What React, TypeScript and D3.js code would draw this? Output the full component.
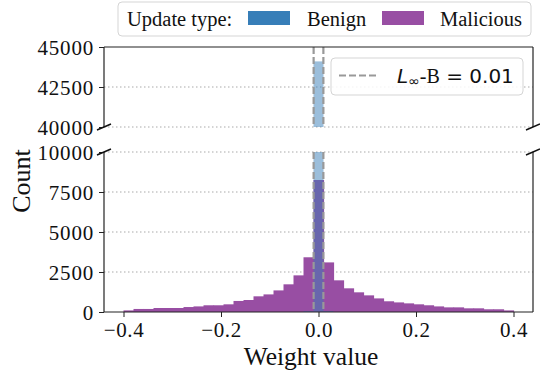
import React, { useRef, useEffect } from 'react';
import * as d3 from 'd3';

// histogram bins: 39 equal bins between -0.4 and 0.4
const binStart = -0.4;
const binEnd = 0.4;
const maliciousCounts = [
  100, 190, 190, 250, 250, 250, 310, 350, 420, 420, 480, 690, 750, 980, 1100, 1350, 1730, 2290, 3420,
  8250,
  3100, 1980, 1480, 1230, 1040, 850, 670, 600, 540, 480, 420, 350, 290, 290, 230, 230, 170, 170, 100,
];
const benignCounts = [
  0, 0, 0, 0, 0, 0, 0, 0, 0, 0, 0, 0, 0, 0, 0, 0, 0, 0, 60,
  44100,
  60, 0, 0, 0, 0, 0, 0, 0, 0, 0, 0, 0, 0, 0, 0, 0, 0, 0, 0,
];
const bound = 0.01;
const xTicks = [-0.4, -0.2, 0.0, 0.2, 0.4];
const topTicks = [40000, 42500, 45000];
const bottomTicks = [0, 2500, 5000, 7500, 10000];

const BENIGN = '#377eb8';
const MALICIOUS = '#984ea3';
const SERIF = '"Liberation Serif", "Times New Roman", serif';
const SANS = '"DejaVu Sans", sans-serif';

const App = () => {
  const svgRef = useRef(null);

  useEffect(() => {
    const svg = d3.select(svgRef.current);
    svg.selectAll('*').remove();

    const left = 104, right = 533;
    const topPanel = { y0: 47, y1: 127 };
    const botPanel = { y0: 152, y1: 312 };

    const x = d3.scaleLinear().domain([-0.44, 0.44]).range([left, right]);
    const yTop = d3.scaleLinear().domain([40000, 45000]).range([topPanel.y1, topPanel.y0]);
    const yBot = d3.scaleLinear().domain([0, 10000]).range([botPanel.y1, botPanel.y0]);

    const n = maliciousCounts.length;
    const binW = (binEnd - binStart) / n;
    const bins = maliciousCounts.map((m, i) => ({
      x0: binStart + i * binW,
      x1: binStart + (i + 1) * binW,
      malicious: m,
      benign: benignCounts[i],
    }));

    const defs = svg.append('defs');
    defs.append('clipPath').attr('id', 'clip-top')
      .append('rect').attr('x', left).attr('y', topPanel.y0).attr('width', right - left).attr('height', topPanel.y1 - topPanel.y0);
    defs.append('clipPath').attr('id', 'clip-bot')
      .append('rect').attr('x', left).attr('y', botPanel.y0).attr('width', right - left).attr('height', botPanel.y1 - botPanel.y0);

    const panels = [
      { y: yTop, ticks: topTicks, clip: 'clip-top', p: topPanel, min: 40000 },
      { y: yBot, ticks: bottomTicks, clip: 'clip-bot', p: botPanel, min: 0 },
    ];

    panels.forEach(({ y, ticks, clip, p, min }) => {
      // dotted grid
      svg.append('g')
        .selectAll('line')
        .data(ticks.filter(t => t !== 0 && t !== 45000))
        .enter()
        .append('line')
        .attr('x1', left).attr('x2', right)
        .attr('y1', d => y(d)).attr('y2', d => y(d))
        .attr('stroke', '#aaa')
        .attr('stroke-width', 1.2)
        .attr('stroke-dasharray', '1.5,2.5');

      const g = svg.append('g').attr('clip-path', `url(#${clip})`);

      g.selectAll('.mal')
        .data(bins.filter(b => b.malicious > min))
        .enter()
        .append('rect')
        .attr('x', d => x(d.x0))
        .attr('width', d => x(d.x1) - x(d.x0) + 0.6)
        .attr('y', d => y(d.malicious))
        .attr('height', d => y(min) - y(d.malicious) + 2)
        .attr('fill', MALICIOUS);

      g.selectAll('.ben')
        .data(bins.filter(b => b.benign > min))
        .enter()
        .append('rect')
        .attr('x', d => x(d.x0))
        .attr('width', d => x(d.x1) - x(d.x0))
        .attr('y', d => y(d.benign))
        .attr('height', d => y(min) - y(d.benign) + 2)
        .attr('fill', BENIGN)
        .attr('fill-opacity', 0.5);

      // bound lines
      g.selectAll('.bound')
        .data([-bound, bound])
        .enter()
        .append('line')
        .attr('x1', d => x(d)).attr('x2', d => x(d))
        .attr('y1', p.y0).attr('y2', p.y1)
        .attr('stroke', '#999')
        .attr('stroke-width', 2.2)
        .attr('stroke-dasharray', '7,3');

      // y axis
      const axis = svg.append('g')
        .attr('transform', `translate(${left},0)`)
        .call(d3.axisLeft(y).tickValues(ticks).tickSize(5).tickPadding(5).tickFormat(d3.format('d')));
      axis.select('.domain').remove();
      axis.selectAll('line').attr('stroke', '#222').attr('stroke-width', 1);
      axis.selectAll('text')
        .attr('font-family', SERIF)
        .attr('font-size', 21)
        .attr('letter-spacing', 0.8)
        .attr('fill', '#111')
        .attr('dy', '0.34em');

      // spines
      svg.append('line')
        .attr('x1', left).attr('x2', left).attr('y1', p.y0).attr('y2', p.y1)
        .attr('stroke', '#222').attr('stroke-width', 1.2);
      svg.append('line')
        .attr('x1', right).attr('x2', right).attr('y1', p.y0).attr('y2', p.y1)
        .attr('stroke', '#222').attr('stroke-width', 1.2);
    });

    // top spine
    svg.append('line')
      .attr('x1', left).attr('x2', right).attr('y1', topPanel.y0).attr('y2', topPanel.y0)
      .attr('stroke', '#222').attr('stroke-width', 1.2);

    // x axis
    const xAxis = svg.append('g')
      .attr('transform', `translate(0,${botPanel.y1})`)
      .call(d3.axisBottom(x).tickValues(xTicks).tickSize(5).tickPadding(5).tickFormat(d3.format('.1f')));
    xAxis.select('.domain').attr('stroke', '#222').attr('stroke-width', 1.2).attr('d', `M${left},0H${right}`);
    xAxis.selectAll('line').attr('stroke', '#222');
    xAxis.selectAll('text')
      .attr('font-family', SERIF)
      .attr('font-size', 21)
      .attr('letter-spacing', 0.6)
      .attr('fill', '#111');

    // break marks
    const breaks = [
      [left, topPanel.y1], [right, topPanel.y1],
      [left, botPanel.y0], [right, botPanel.y0],
    ];
    svg.append('g')
      .selectAll('line')
      .data(breaks)
      .enter()
      .append('line')
      .attr('x1', d => d[0] - 7).attr('x2', d => d[0] + 7)
      .attr('y1', d => d[1] + 3).attr('y2', d => d[1] - 3)
      .attr('stroke', '#111')
      .attr('stroke-width', 1.5);

    // axis labels
    svg.append('text')
      .attr('x', 311)
      .attr('y', 365)
      .attr('text-anchor', 'middle')
      .attr('font-family', SERIF)
      .attr('font-size', 25.5)
      .attr('fill', '#111')
      .text('Weight value');

    svg.append('text')
      .attr('transform', 'translate(30,181) rotate(-90)')
      .attr('text-anchor', 'middle')
      .attr('font-family', SERIF)
      .attr('font-size', 26)
      .attr('fill', '#111')
      .text('Count');

    // inner legend (bound)
    const lg = svg.append('g');
    lg.append('rect')
      .attr('x', 331).attr('y', 58).attr('width', 192).attr('height', 37)
      .attr('rx', 4)
      .attr('fill', 'white').attr('fill-opacity', 0.85)
      .attr('stroke', '#d5d5d5');
    lg.append('line')
      .attr('x1', 339).attr('x2', 378).attr('y1', 75.5).attr('y2', 75.5)
      .attr('stroke', '#999').attr('stroke-width', 2.2).attr('stroke-dasharray', '7,3');
    const lt = lg.append('text')
      .attr('x', 397).attr('y', 83)
      .attr('font-size', 20)
      .attr('fill', '#111');
    lt.append('tspan').attr('font-family', SANS).attr('font-style', 'italic').text('L');
    lt.append('tspan').attr('font-family', SANS).attr('font-size', 14).attr('dy', 3).text('∞');
    lt.append('tspan').attr('font-family', SERIF).attr('dy', -3).text('-B');
    lt.append('tspan').attr('font-family', SANS).text(' = 0.01');

    // top legend (update type)
    const tl = svg.append('g');
    tl.append('rect')
      .attr('x', 118).attr('y', 2).attr('width', 413).attr('height', 34)
      .attr('rx', 4)
      .attr('fill', 'white')
      .attr('stroke', '#d5d5d5');
    const legendText = (tx, s) => tl.append('text')
      .attr('x', tx).attr('y', 26)
      .attr('font-family', SERIF)
      .attr('font-size', 20.5)
      .attr('fill', '#111')
      .text(s);
    legendText(127, 'Update type:');
    tl.append('rect').attr('x', 248).attr('y', 11).attr('width', 42).attr('height', 14).attr('fill', BENIGN);
    legendText(307, 'Benign');
    tl.append('rect').attr('x', 382).attr('y', 11).attr('width', 42).attr('height', 14).attr('fill', MALICIOUS);
    legendText(440, 'Malicious');
  }, []);

  return (
    <svg ref={svgRef} width={540} height={376} style={{ position: 'absolute', left: 0, top: 0, background: 'white' }} />
  );
};

export default App;
